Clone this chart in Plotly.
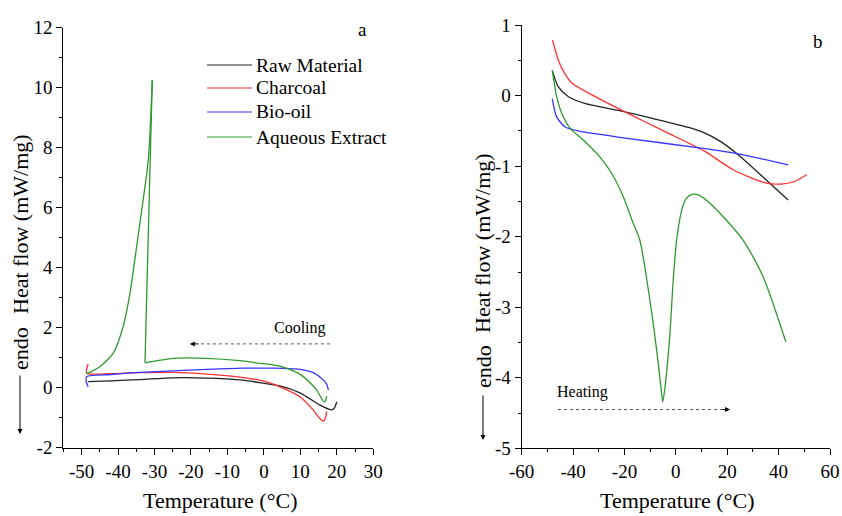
import plotly.graph_objects as go

# ---------------- Panel a (cooling) ----------------
a_raw_x = [20.0, 19.3, 18.6, 15.4, 9.9, 4.4, -1.1, -6.6, -15.7, -24.9, -34.0, -42.0, -48.2]
a_raw_y = [-0.47, -0.68, -0.74, -0.58, -0.17, 0.06, 0.17, 0.26, 0.32, 0.33, 0.27, 0.23, 0.20]

a_char_x = [17.2, 16.9, 16.3, 15.3, 13.5, 9.9, 4.4, 0.0, -6.6, -15.7, -24.9, -34.0, -42.0, -48.6, -48.6, -48.2]
a_char_y = [-0.80, -1.00, -1.11, -1.02, -0.74, -0.30, 0.03, 0.22, 0.35, 0.45, 0.51, 0.50, 0.47, 0.48, 0.62, 0.79]

a_bio_x = [17.7, 17.2, 16.3, 13.5, 9.9, 2.5, -6.0, -15.7, -25.0, -34.0, -42.0, -48.6, -48.7, -48.2]
a_bio_y = [-0.08, 0.12, 0.26, 0.50, 0.61, 0.65, 0.65, 0.61, 0.56, 0.51, 0.44, 0.37, 0.20, 0.03]

a_aq_x = [17.2, 16.9, 16.5, 15.5, 14.5, 10.8, 6.2, 2.5, -1.1, -6.6, -15.7, -24.9, -32.6,
          -30.6, -31.7, -33.5, -35.4, -36.7, -38.6, -41.3, -45.0, -48.5, -48.6]
a_aq_y = [-0.28, -0.44, -0.47, -0.30, -0.08, 0.37, 0.65, 0.76, 0.81, 0.90, 0.98, 0.98, 0.83,
          10.26, 7.59, 5.92, 4.26, 3.16, 2.03, 1.15, 0.70, 0.48, 0.53]
a_aq_onset = 12   # index where the crystallisation spike starts
a_aq_peak = 13    # index of the spike maximum

# ---------------- Panel b (heating) ----------------
b_raw_x = [-48.1, -45.8, -41.9, -35.4, -19.8, -1.6, 5.0, 11.3, 17.0, 23.7, 35.3, 43.7]
b_raw_y = [0.36, 0.13, -0.01, -0.11, -0.23, -0.39, -0.45, -0.53, -0.64, -0.82, -1.20, -1.48]

b_char_x = [-48.0, -45.8, -43.5, -40.5, -31.5, -19.8, -4.2, 11.3, 22.3, 35.3, 41.8, 46.0, 50.9]
b_char_y = [0.79, 0.51, 0.33, 0.18, -0.01, -0.23, -0.51, -0.79, -1.05, -1.24, -1.25, -1.22, -1.12]

b_bio_x = [-48.1, -46.4, -43.2, -38.0, -19.8, 11.3, 23.7, 43.7]
b_bio_y = [-0.04, -0.30, -0.44, -0.50, -0.60, -0.75, -0.82, -0.98]

b_aq_x = [-48.1, -46.4, -44.4, -41.2, -35.4, -29.5, -25.0, -20.5, -16.6, -14.0, -10.1, -7.5, -5.8,
          -5.1, -4.2, -2.3, -1.0, 0.3, 2.3, 4.0, 6.3, 9.0, 14.6, 26.2, 34.0, 42.8]
b_aq_y = [0.36, -0.01, -0.25, -0.46, -0.65, -0.87, -1.10, -1.43, -1.81, -2.05, -2.90, -3.60, -4.13,
          -4.34, -4.13, -3.37, -2.60, -2.05, -1.62, -1.46, -1.40, -1.41, -1.57, -2.05, -2.57, -3.49]

series_names = ["Raw Material", "Charcoal", "Bio-oil", "Aqueous Extract"]
series_colors = ["#222222", "#ff3030", "#3535ff", "#2e9a2e"]

a_xticks = [-50, -40, -30, -20, -10, 0, 10, 20, 30]
a_xtext = ["-50", "-40", "-30", "-20", "-10", "0", "10", "20", "30"]
a_yticks = [-2, 0, 2, 4, 6, 8, 10, 12]
a_ytext = ["-2", "0", "2", "4", "6", "8", "10", "12"]
b_xticks = [-60, -40, -20, 0, 20, 40, 60]
b_xtext = ["-60", "-40", "-20", "0", "20", "40", "60"]
b_yticks = [-5, -4, -3, -2, -1, 0, 1]
b_ytext = ["-5", "-4", "-3", "-2", "-1", "0", "1"]

FONT = "Liberation Serif"
W, H = 842, 516
TICK_SIZE = 19
TITLE_SIZE = 22


def px(xw):
    """window pixel x -> paper fraction"""
    return xw / W


def py(yw):
    """window pixel y -> paper fraction"""
    return 1 - yw / H


fig = go.Figure()


def line(col):
    return dict(color=col, width=1.3, shape="spline", smoothing=0.7)


a_data = [(a_raw_x, a_raw_y), (a_char_x, a_char_y), (a_bio_x, a_bio_y)]
for (xs, ys), name, col in zip(a_data, series_names[:3], series_colors[:3]):
    fig.add_trace(go.Scatter(x=xs, y=ys, mode="lines", name=name, line=line(col),
                             xaxis="x", yaxis="y"))
g = series_colors[3]
fig.add_trace(go.Scatter(x=a_aq_x[:a_aq_onset + 1], y=a_aq_y[:a_aq_onset + 1], mode="lines",
                         name=series_names[3], line=line(g), xaxis="x", yaxis="y"))
fig.add_trace(go.Scatter(x=a_aq_x[a_aq_onset:a_aq_peak + 1], y=a_aq_y[a_aq_onset:a_aq_peak + 1],
                         mode="lines", name=series_names[3],
                         line=dict(color=g, width=1.3), xaxis="x", yaxis="y"))
fig.add_trace(go.Scatter(x=a_aq_x[a_aq_peak:], y=a_aq_y[a_aq_peak:], mode="lines",
                         name=series_names[3], line=line(g), xaxis="x", yaxis="y"))

b_data = [(b_raw_x, b_raw_y), (b_char_x, b_char_y), (b_bio_x, b_bio_y), (b_aq_x, b_aq_y)]
for (xs, ys), name, col in zip(b_data, series_names, series_colors):
    fig.add_trace(go.Scatter(x=xs, y=ys, mode="lines", name=name,
                             line=line(col), xaxis="x2", yaxis="y2"))

axis_common = dict(showline=True, linecolor="black", linewidth=1.2, mirror=False,
                   ticks="outside", ticklen=6, tickwidth=1.2, tickcolor="black",
                   showgrid=False, zeroline=False, automargin=False,
                   tickfont=dict(family=FONT, size=TICK_SIZE, color="black"))

fig.update_layout(
    width=W, height=H,
    margin=dict(l=0, r=0, t=0, b=0, autoexpand=False),
    paper_bgcolor="white", plot_bgcolor="white",
    font=dict(family=FONT, color="black"),
    showlegend=False,
    xaxis=dict(domain=[px(63.3), px(373.3)], range=[-55, 30], anchor="y",
               tickmode="array", tickvals=a_xticks, ticktext=a_xtext,
               minor=dict(dtick=5, tick0=0, ticks="outside", ticklen=3, tickcolor="black"),
               **axis_common),
    yaxis=dict(domain=[py(447.7), py(27.7)], range=[-2, 12], anchor="x",
               tickmode="array", tickvals=a_yticks, ticktext=a_ytext,
               minor=dict(dtick=1, tick0=0, ticks="outside", ticklen=3, tickcolor="black"),
               **axis_common),
    xaxis2=dict(domain=[px(521.7), px(830)], range=[-60, 60], anchor="y2",
                tickmode="array", tickvals=b_xticks, ticktext=b_xtext,
                minor=dict(dtick=10, tick0=0, ticks="outside", ticklen=3, tickcolor="black"),
                **axis_common),
    yaxis2=dict(domain=[py(448.3), py(25.2)], range=[-5, 1], anchor="x2",
                tickmode="array", tickvals=b_yticks, ticktext=b_ytext,
                minor=dict(dtick=0.5, tick0=0, ticks="outside", ticklen=3, tickcolor="black"),
                **axis_common),
)


def txt(text, xw, yw, size, angle=0, xanchor="center"):
    return dict(text=text, x=px(xw), y=py(yw), xref="paper", yref="paper", showarrow=False,
                textangle=angle, xanchor=xanchor, yanchor="middle",
                font=dict(family=FONT, size=size, color="black"))


annotations = [
    txt("a", 362, 30, 19),
    txt("b", 818, 41, 19),
    txt("Temperature (°C)", 220, 500, TITLE_SIZE),
    txt("Temperature (°C)", 677, 500, TITLE_SIZE),
    txt("Heat flow (mW/mg)", 20, 224, TITLE_SIZE, -90),
    txt("endo", 20, 349, TITLE_SIZE, -90),
    txt("Heat flow (mW/mg)", 483, 243, TITLE_SIZE, -90),
    txt("endo", 483, 367, TITLE_SIZE, -90),
    dict(text="", x=px(20), y=py(434), xref="paper", yref="paper", ax=0, ay=-60,
         axref="pixel", ayref="pixel", showarrow=True, arrowhead=2, arrowsize=1, arrowwidth=1,
         arrowcolor="black"),
    dict(text="", x=px(483), y=py(440), xref="paper", yref="paper", ax=0, ay=-46,
         axref="pixel", ayref="pixel", showarrow=True, arrowhead=2, arrowsize=1, arrowwidth=1,
         arrowcolor="black"),
    dict(text="Cooling", x=9.9, y=2.0, xref="x", yref="y", showarrow=False,
         xanchor="center", yanchor="middle", font=dict(family=FONT, size=16)),
    dict(text="", x=-20.3, y=1.46, xref="x", yref="y", ax=-17.5, ay=1.46, axref="x", ayref="y",
         showarrow=True, arrowhead=2, arrowsize=1, arrowwidth=1, arrowcolor="black"),
    dict(text="Heating", x=-36.5, y=-4.2, xref="x2", yref="y2", showarrow=False,
         xanchor="center", yanchor="middle", font=dict(family=FONT, size=16)),
    dict(text="", x=21.1, y=-4.45, xref="x2", yref="y2", ax=17.5, ay=-4.45, axref="x2", ayref="y2",
         showarrow=True, arrowhead=2, arrowsize=1, arrowwidth=1, arrowcolor="black"),
]

# legend drawn as sample lines + text entries (panel a)
legend_rows = [65, 88, 112, 137]
shapes = []
for name, col, yw in zip(series_names, series_colors, legend_rows):
    shapes.append(dict(type="line", xref="paper", yref="paper", x0=px(207), x1=px(252),
                       y0=py(yw), y1=py(yw), line=dict(color=col, width=1.2)))
    annotations.append(txt(name, 254, yw, 19.5, xanchor="left"))

shapes.append(dict(type="line", x0=18.1, x1=-18.0, y0=1.46, y1=1.46, xref="x", yref="y",
                   line=dict(color="#555555", width=1, dash="dot")))
shapes.append(dict(type="line", x0=-45.9, x1=18.0, y0=-4.45, y1=-4.45, xref="x2", yref="y2",
                   line=dict(color="#555555", width=1, dash="dot")))

fig.update_layout(annotations=annotations, shapes=shapes)

# remove the default 8 px page margin so the 842x516 figure fills the window exactly
fig.write_html("out.html",
               config={"displayModeBar": False},
               post_script="document.body.style.margin='0';document.body.style.overflow='hidden';")
